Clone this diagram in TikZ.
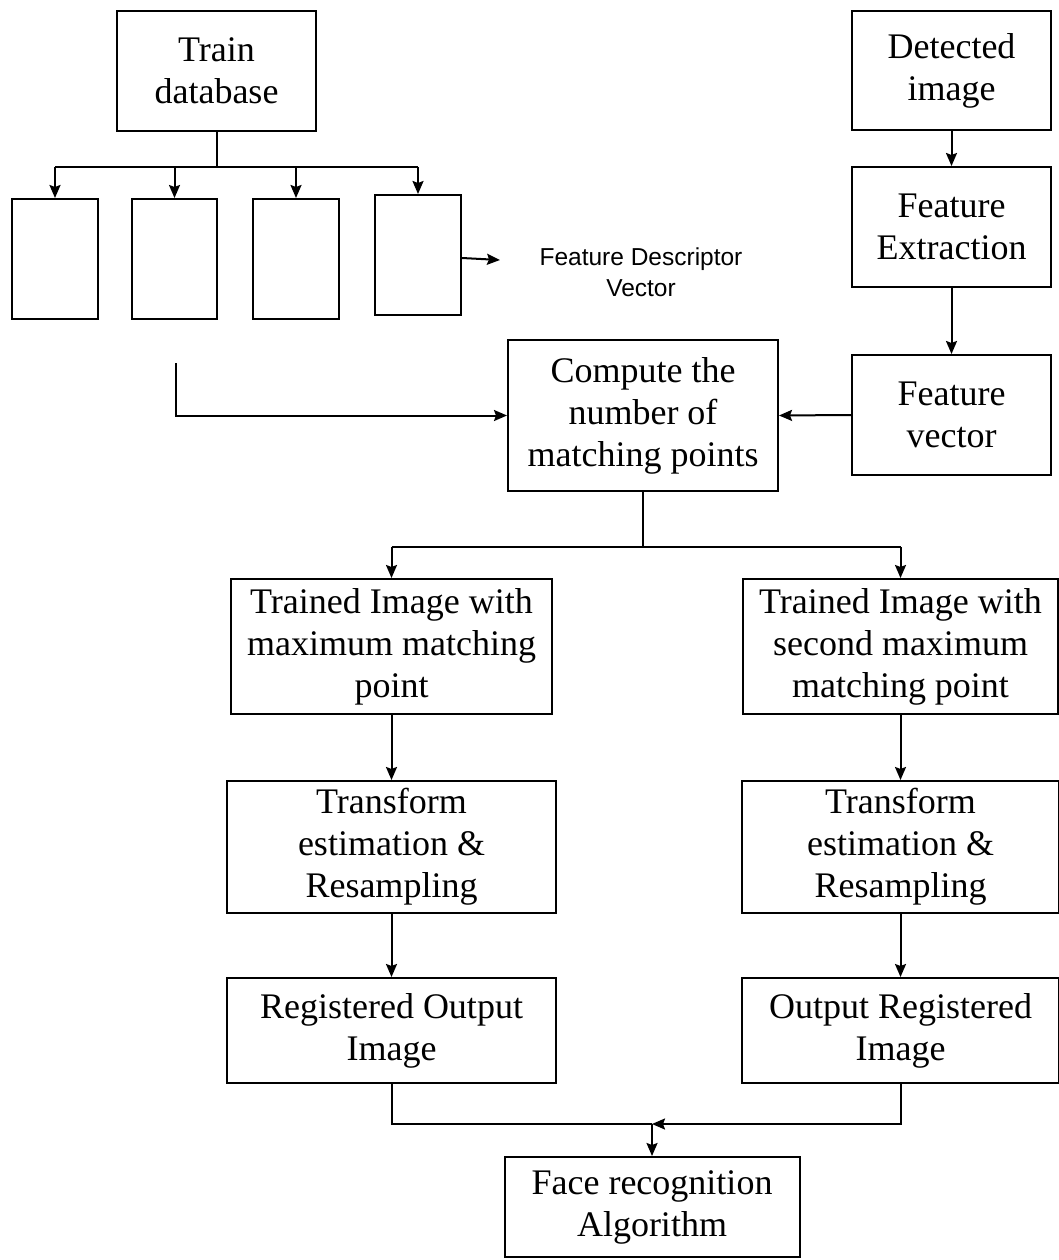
\documentclass[tikz,border=0pt]{standalone}
\usepackage{fontspec}
\setmainfont{Liberation Serif}
\newfontfamily\labelsans{Liberation Sans}
\usetikzlibrary{arrows.meta}
\begin{document}
\begin{tikzpicture}[x=1pt,y=-1pt,
  box/.style={draw, line width=2pt, inner sep=0pt, align=center,
    font=\fontsize{36}{42}\selectfont},
  arr/.style={line width=2pt, -{Stealth[length=13pt,width=11pt,inset=2pt]}},
  ln/.style={line width=2pt}]
\useasboundingbox[fill=white] (0,0) rectangle (1059,1260);

% left top
\node[box, minimum width=199pt, minimum height=120pt] (train) at (216.5,71) {Train\\database};
\node[box, minimum width=86pt, minimum height=120pt] (s1) at (55,259) {};
\node[box, minimum width=85pt, minimum height=120pt] (s2) at (174.5,259) {};
\node[box, minimum width=86pt, minimum height=120pt] (s3) at (296,259) {};
\node[box, minimum width=86pt, minimum height=120pt] (s4) at (418,255) {};
\node[align=center, font=\labelsans\fontsize{24.5}{31}\selectfont] (fdv) at (641,272) {Feature Descriptor\\Vector};

% right top
\node[box, minimum width=199pt, minimum height=119pt] (det) at (951.5,70.5) {Detected\\image};
\node[box, minimum width=199pt, minimum height=120pt] (fe) at (951.5,227) {Feature\\Extraction};
\node[box, minimum width=199pt, minimum height=120pt] (fv) at (951.5,415) {Feature\\vector};

% middle
\node[box, minimum width=270pt, minimum height=151pt] (cmp) at (643,415.5) {Compute the\\number of\\matching points};

% columns
\node[box, minimum width=321pt, minimum height=135pt] (tmax) at (391.5,646.5) {Trained Image with\\maximum matching\\point};
\node[box, minimum width=315pt, minimum height=135pt] (tsec) at (900.5,646.5) {Trained Image with\\second maximum\\matching point};
\node[box, minimum width=329pt, minimum height=132pt] (tr1) at (391.5,847) {Transform\\estimation \&\\Resampling};
\node[box, minimum width=317pt, minimum height=132pt] (tr2) at (900.5,847) {Transform\\estimation \&\\Resampling};
\node[box, minimum width=329pt, minimum height=105pt] (reg1) at (391.5,1030.5) {Registered Output\\Image};
\node[box, minimum width=317pt, minimum height=105pt] (reg2) at (900.5,1030.5) {Output Registered\\Image};
\node[box, minimum width=295pt, minimum height=100pt] (face) at (652,1207) {Face recognition\\Algorithm};

% connectors top-left
\coordinate (tj) at (216.5,167);
\draw[ln] (train.south) -- (tj);
\draw[ln] (s1.north |- tj) -- (s4.north |- tj);
\draw[arr] (s1.north |- tj) -- (s1.north);
\draw[arr] (s2.north |- tj) -- (s2.north);
\draw[arr] (s3.north |- tj) -- (s3.north);
\draw[arr] (s4.north |- tj) -- (s4.north);
\coordinate (fdvarrow) at (500,260);
\draw[arr] (s4.east) ++(0,3) -- (fdvarrow);

% right column
\draw[arr] (det.south) -- (fe.north);
\draw[arr] (fe.south) -- (fv.north);
\draw[arr] (fv.west) -- (cmp.east);

% feed from train images
\coordinate (lstart) at (176,363);
\draw[arr] (lstart) |- (cmp.west);

% split
\coordinate (sj) at (643,547);
\draw[ln] (cmp.south) -- (sj);
\draw[ln] (tmax.north |- sj) -- (tsec.north |- sj);
\draw[arr] (tmax.north |- sj) -- (tmax.north);
\draw[arr] (tsec.north |- sj) -- (tsec.north);

\draw[arr] (tmax.south) -- (tr1.north);
\draw[arr] (tr1.south) -- (reg1.north);
\draw[arr] (tsec.south) -- (tr2.north);
\draw[arr] (tr2.south) -- (reg2.north);

% merge
\coordinate (mj) at (652,1124);
\draw[ln] (reg1.south) |- (mj);
\draw[arr] (reg2.south) |- (mj);
\draw[arr] (mj) -- (face.north);
\end{tikzpicture}
\end{document}
